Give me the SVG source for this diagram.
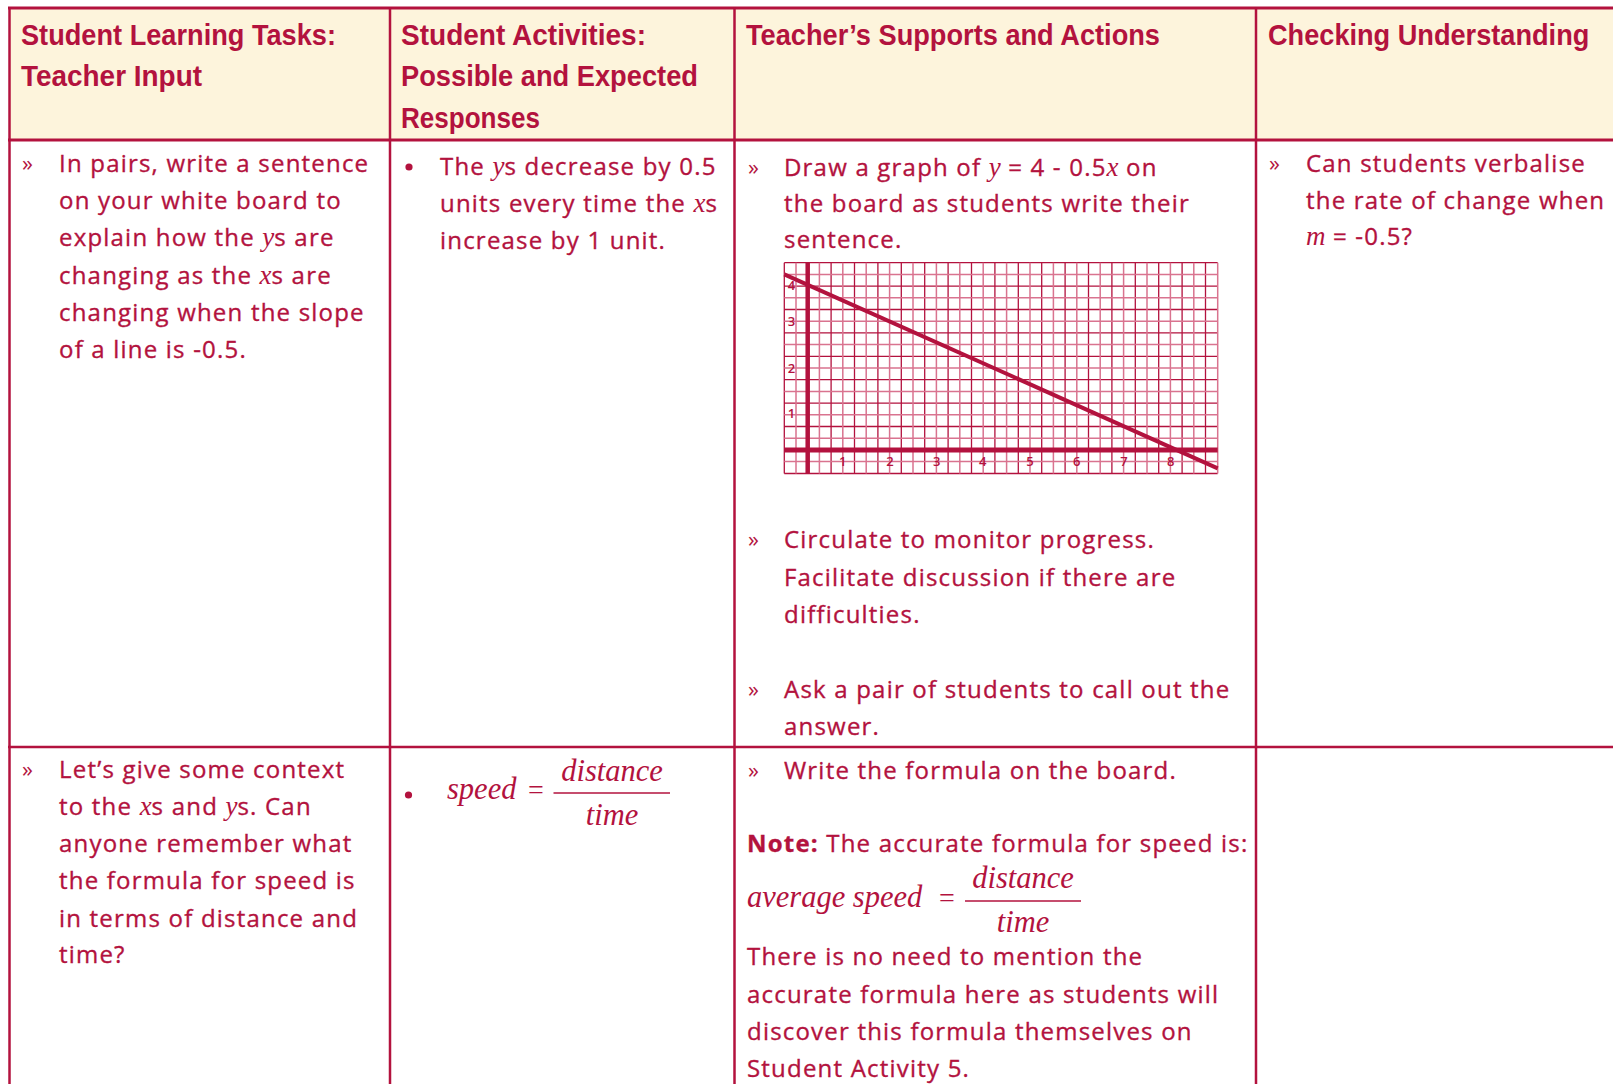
<svg xmlns="http://www.w3.org/2000/svg" width="1613" height="1084" viewBox="0 0 1613 1084">
<defs>
<style>
.ln{stroke:#b3123e;fill:none}
.h{font-family:"Liberation Sans",Arial,sans-serif;font-weight:bold;font-size:30px;fill:#b3123e}
.b{font-family:"Open Sans","Liberation Sans",sans-serif;font-size:24px;letter-spacing:1.2px;fill:#b3123e;stroke:#b3123e;stroke-width:0.35px}
.g{font-family:"Open Sans","Liberation Sans",sans-serif;font-size:22px;fill:#b3123e}
.v{font-family:"Liberation Serif","Times New Roman",serif;font-style:italic;font-size:27px;letter-spacing:0px;stroke-width:0px}
.f{font-family:"Liberation Serif","Times New Roman",serif;font-style:italic;font-size:30.5px;fill:#b3123e}
.fe{font-family:"Liberation Serif","Times New Roman",serif;font-size:28px;fill:#b3123e}
.lab{font-family:"Open Sans","Liberation Sans",sans-serif;font-weight:600;font-size:13px;fill:#b3123e;text-anchor:middle}
.gd{stroke:#b3123e;stroke-width:1.3}
.gl{stroke:#d9738f;stroke-width:1.5}
</style>
</defs>
<rect width="1613" height="1084" fill="#ffffff"/>
<g id="header-bg">
<rect x="9" y="8" width="1604" height="132" fill="#fdf4dc"/>
</g>
<g id="table-lines" class="ln">
<line x1="8" y1="8" x2="1613" y2="8" stroke-width="3"/>
<line x1="8" y1="140" x2="1613" y2="140" stroke-width="3"/>
<line x1="8" y1="747" x2="1613" y2="747" stroke-width="2.5"/>
<line x1="9.5" y1="7" x2="9.5" y2="1084" stroke-width="2.5"/>
<line x1="390" y1="7" x2="390" y2="1084" stroke-width="2.5"/>
<line x1="734.5" y1="7" x2="734.5" y2="1084" stroke-width="2.5"/>
<line x1="1256" y1="7" x2="1256" y2="1084" stroke-width="2.5"/>
</g>
<g id="headers">
<text class="h" x="21" y="45" textLength="315" lengthAdjust="spacingAndGlyphs">Student Learning Tasks:</text>
<text class="h" x="21" y="86" textLength="181" lengthAdjust="spacingAndGlyphs">Teacher Input</text>
<text class="h" x="401" y="45" textLength="245" lengthAdjust="spacingAndGlyphs">Student Activities:</text>
<text class="h" x="401" y="86" textLength="297" lengthAdjust="spacingAndGlyphs">Possible and Expected</text>
<text class="h" x="401" y="128" textLength="139" lengthAdjust="spacingAndGlyphs">Responses</text>
<text class="h" x="746" y="45" textLength="414" lengthAdjust="spacingAndGlyphs">Teacher’s Supports and Actions</text>
<text class="h" transform="translate(1268 45) scale(0.905 1)" x="0" y="0">Checking Understanding</text>
</g>
<g id="r1c1">
<text class="g" x="22" y="171">»</text>
<text class="b" x="59" y="172">In pairs, write a sentence</text>
<text class="b" x="59" y="209">on your white board to</text>
<text class="b" x="59" y="246">explain how the <tspan class="v">y</tspan>s are</text>
<text class="b" x="59" y="284">changing as the <tspan class="v">x</tspan>s are</text>
<text class="b" x="59" y="321">changing when the slope</text>
<text class="b" x="59" y="358">of a line is -0.5.</text>
</g>
<g id="r1c2">
<circle cx="409" cy="167" r="3.6" fill="#b3123e"/>
<text class="b" x="440" y="175">The <tspan class="v">y</tspan>s decrease by 0.5</text>
<text class="b" x="440" y="212">units every time the <tspan class="v">x</tspan>s</text>
<text class="b" x="440" y="249">increase by 1 unit.</text>
</g>
<g id="r1c3">
<text class="g" x="748" y="175">»</text>
<text class="b" x="784" y="176">Draw a graph of <tspan class="v">y</tspan> = 4 - 0.5<tspan class="v">x</tspan> on</text>
<text class="b" x="784" y="212">the board as students write their</text>
<text class="b" x="784" y="248">sentence.</text>
<g id="graph">
<path class="gd" d="M784.3 262.7V473.5M807.7 262.7V473.5M831.1 262.7V473.5M854.5 262.7V473.5M877.9 262.7V473.5M901.3 262.7V473.5M924.7 262.7V473.5M948.1 262.7V473.5M971.5 262.7V473.5M994.9 262.7V473.5M1018.3 262.7V473.5M1041.7 262.7V473.5M1065.1 262.7V473.5M1088.5 262.7V473.5M1111.9 262.7V473.5M1135.3 262.7V473.5M1158.7 262.7V473.5M1182.1 262.7V473.5M1205.5 262.7V473.5M784.3 262.7H1217.7M784.3 286.1H1217.7M784.3 309.5H1217.7M784.3 332.9H1217.7M784.3 356.3H1217.7M784.3 379.7H1217.7M784.3 403.1H1217.7M784.3 426.5H1217.7M784.3 449.9H1217.7M784.3 473.5H1217.7"/>
<path class="gl" d="M796 262.7V473.5M819.4 262.7V473.5M842.8 262.7V473.5M866.2 262.7V473.5M889.6 262.7V473.5M913 262.7V473.5M936.4 262.7V473.5M959.8 262.7V473.5M983.2 262.7V473.5M1006.6 262.7V473.5M1030 262.7V473.5M1053.4 262.7V473.5M1076.8 262.7V473.5M1100.2 262.7V473.5M1123.6 262.7V473.5M1147 262.7V473.5M1170.4 262.7V473.5M1193.8 262.7V473.5M1217.7 262.7V473.5M784.3 274.4H1217.7M784.3 297.8H1217.7M784.3 321.2H1217.7M784.3 344.6H1217.7M784.3 368H1217.7M784.3 391.4H1217.7M784.3 414.8H1217.7M784.3 438.2H1217.7M784.3 461.6H1217.7"/>
<line class="ln" x1="807.7" y1="262.7" x2="807.7" y2="473.5" stroke-width="4.5"/>
<line class="ln" x1="784.3" y1="450" x2="1217.7" y2="450" stroke-width="5"/>
<line class="ln" x1="784.3" y1="274.3" x2="1217.7" y2="468.3" stroke-width="4"/>
<text class="lab" x="791.5" y="290">4</text>
<text class="lab" x="791.5" y="326">3</text>
<text class="lab" x="791.5" y="373">2</text>
<text class="lab" x="791.5" y="418">1</text>
<text class="lab" x="842.7" y="466">1</text>
<text class="lab" x="890" y="466">2</text>
<text class="lab" x="936.7" y="466">3</text>
<text class="lab" x="982.7" y="466">4</text>
<text class="lab" x="1030" y="466">5</text>
<text class="lab" x="1076.7" y="466">6</text>
<text class="lab" x="1124" y="466">7</text>
<text class="lab" x="1170.7" y="466">8</text>
</g>
<text class="g" x="748" y="547">»</text>
<text class="b" x="784" y="548">Circulate to monitor progress.</text>
<text class="b" x="784" y="586">Facilitate discussion if there are</text>
<text class="b" x="784" y="623">difficulties.</text>
<text class="g" x="748" y="697">»</text>
<text class="b" x="784" y="698">Ask a pair of students to call out the</text>
<text class="b" x="784" y="735">answer.</text>
</g>
<g id="r1c4">
<text class="g" x="1269" y="171">»</text>
<text class="b" x="1306" y="172">Can students verbalise</text>
<text class="b" x="1306" y="209">the rate of change when</text>
<text class="b" x="1306" y="245"><tspan class="v">m</tspan> = -0.5?</text>
</g>
<g id="r2c1">
<text class="g" x="22" y="777">»</text>
<text class="b" x="59" y="778">Let’s give some context</text>
<text class="b" x="59" y="815">to the <tspan class="v">x</tspan>s and <tspan class="v">y</tspan>s. Can</text>
<text class="b" x="59" y="852">anyone remember what</text>
<text class="b" x="59" y="889">the formula for speed is</text>
<text class="b" x="59" y="927">in terms of distance and</text>
<text class="b" x="59" y="963">time?</text>
</g>
<g id="r2c2">
<circle cx="408.5" cy="795" r="3.6" fill="#b3123e"/>
<text class="f" x="447" y="799">speed</text>
<text class="fe" x="528" y="799">=</text>
<line class="ln" x1="553.5" y1="793" x2="670" y2="793" stroke-width="1.5"/>
<text class="f" x="612" y="781" text-anchor="middle">distance</text>
<text class="f" x="612" y="825" text-anchor="middle">time</text>
</g>
<g id="r2c3">
<text class="g" x="748" y="778">»</text>
<text class="b" x="784" y="779">Write the formula on the board.</text>
<text class="b" x="747" y="852"><tspan font-weight="bold">Note:</tspan> The accurate formula for speed is:</text>
<text class="f" x="747" y="907">average speed</text>
<text class="fe" x="939" y="907">=</text>
<line class="ln" x1="965" y1="901" x2="1081" y2="901" stroke-width="1.5"/>
<text class="f" x="1023" y="888" text-anchor="middle">distance</text>
<text class="f" x="1023" y="932" text-anchor="middle">time</text>
<text class="b" x="747" y="965">There is no need to mention the</text>
<text class="b" x="747" y="1003">accurate formula here as students will</text>
<text class="b" x="747" y="1040">discover this formula themselves on</text>
<text class="b" x="747" y="1077">Student Activity 5.</text>
</g>
</svg>
